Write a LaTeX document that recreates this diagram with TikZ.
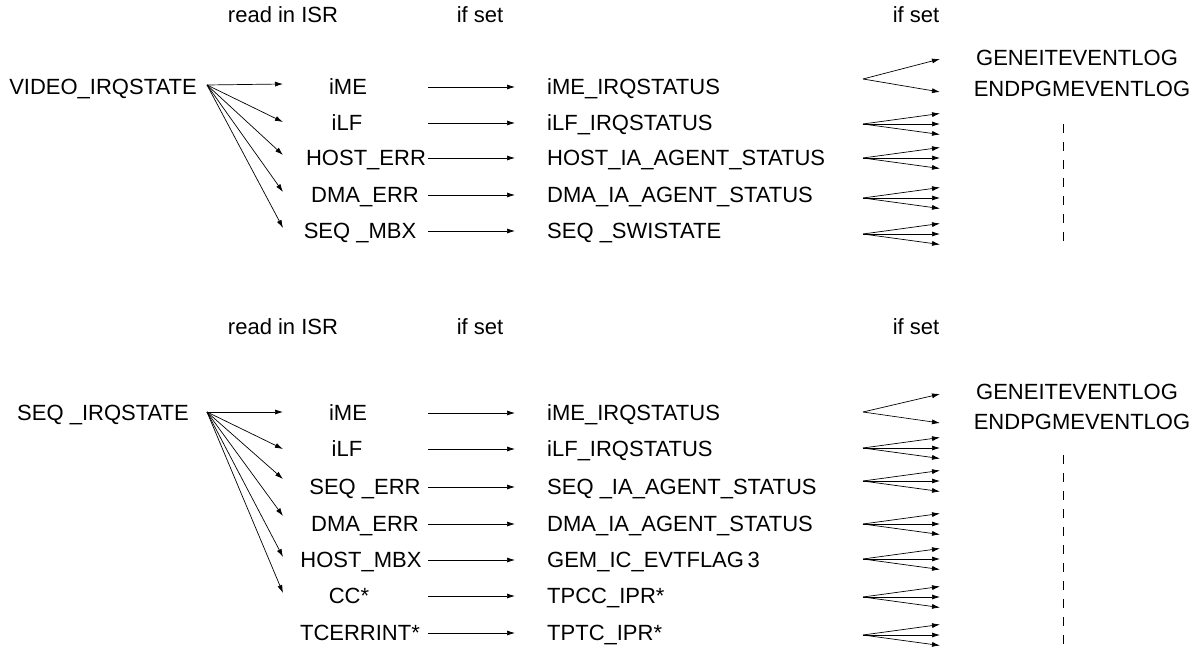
\documentclass[tikz,border=0pt]{standalone}
\usepackage{fontspec}
\setmainfont{Liberation Sans}
\usetikzlibrary{arrows.meta}
\tikzset{
  lbl/.style={inner sep=0pt, text height=15.5pt, text depth=0pt, font=\fontsize{22}{26}\selectfont},
  arr/.style={-{Latex[length=8pt,width=5pt]}, line width=0.7pt},
  dline/.style={line width=0.7pt, dash pattern=on 9pt off 9pt},
}
\begin{document}
\begin{tikzpicture}[x=1pt,y=-1pt]
\useasboundingbox (0,0) rectangle (1192,652);

% upper group
\node[lbl] (hA1) at (283,15) {read in ISR};
\node[lbl] (hA2) at (480,15) {if set};
\node[lbl] (hA3) at (916,15) {if set};
\node[lbl] (srcA) at (103,87) {VIDEO\_IRQSTATE};
\coordinate (oA) at (207,85);
\foreach \i/\t/\r/\cx/\y/\ey in {1/iME/iME\_IRQSTATUS/348/87/84, 2/iLF/iLF\_IRQSTATUS/347/123/122,
    3/HOST\_ERR/HOST\_IA\_AGENT\_STATUS/366/158/155, 4/DMA\_ERR/DMA\_IA\_AGENT\_STATUS/365/195/192,
    5/SEQ \_MBX/SEQ \_SWISTATE/360/231/228} {
  \node[lbl] (mA\i) at (\cx,\y) {\t};
  \node[lbl,anchor=west] (rA\i) at (547,\y) {\r};
  \coordinate (eA\i) at (283,\ey);
  \draw[arr] (oA) -- (eA\i);
  \coordinate (sA\i) at (428,\y);
  \draw[arr,shorten >=32pt] (sA\i) -- (rA\i.west);
}
\node[lbl] (gA1) at (1077,58) {GENEITEVENTLOG};
\node[lbl] (gA2) at (1082,89) {ENDPGMEVENTLOG};
\coordinate (fA1) at (863,79);
\coordinate (tA1a) at (940,59);
\coordinate (tA1b) at (940,92);
\draw[arr] (fA1) -- (tA1a);
\draw[arr] (fA1) -- (tA1b);
\foreach \i/\y in {2/124,3/158,4/198,5/234} {
  \coordinate (fA\i) at (863,\y);
  \foreach \k/\s in {a/-1,b/0,c/1} {
    \coordinate (tA\i\k) at (940,{\y+10.5*(\s)});
    \draw[arr] (fA\i) -- (tA\i\k);
  }
}
\draw[dline] (1063,124) -- (1063,241);

% lower group
\node[lbl] (hB1) at (283,327) {read in ISR};
\node[lbl] (hB2) at (480,327) {if set};
\node[lbl] (hB3) at (916,327) {if set};
\node[lbl] (srcB) at (103,413) {SEQ \_IRQSTATE};
\coordinate (oB) at (207,412);
\foreach \i/\t/\r/\cx/\y in {1/iME/iME\_IRQSTATUS/348/413, 2/iLF/iLF\_IRQSTATUS/347/449,
    3/SEQ \_ERR/SEQ \_IA\_AGENT\_STATUS/365/487, 4/DMA\_ERR/DMA\_IA\_AGENT\_STATUS/365/524,
    5/HOST\_MBX/GEM\_IC\_EVTFLAG\,3/361/560, 6/CC*/TPCC\_IPR*/349/596,
    7/TCERRINT*/TPTC\_IPR*/360/633} {
  \node[lbl] (mB\i) at (\cx,\y) {\t};
  \node[lbl,anchor=west] (rB\i) at (547,\y) {\r};
  \coordinate (sB\i) at (428,\y);
  \draw[arr,shorten >=32pt] (sB\i) -- (rB\i.west);
}
\foreach \i/\ey in {1/412,2/449,3/479,4/516,5/557,6/593} {
  \coordinate (eB\i) at (283,\ey);
  \draw[arr] (oB) -- (eB\i);
}
\node[lbl] (gB1) at (1077,392) {GENEITEVENTLOG};
\node[lbl] (gB2) at (1082,422) {ENDPGMEVENTLOG};
\coordinate (fB1) at (863,412);
\coordinate (tB1a) at (940,394);
\coordinate (tB1b) at (940,423);
\draw[arr] (fB1) -- (tB1a);
\draw[arr] (fB1) -- (tB1b);
\foreach \i/\y in {2/448,3/481,4/524,5/559,6/597,7/635} {
  \coordinate (fB\i) at (863,\y);
  \foreach \k/\s in {a/-1,b/0,c/1} {
    \coordinate (tB\i\k) at (940,{\y+10.5*(\s)});
    \draw[arr] (fB\i) -- (tB\i\k);
  }
}
\draw[dline] (1063,455) -- (1063,652);
\end{tikzpicture}
\end{document}
